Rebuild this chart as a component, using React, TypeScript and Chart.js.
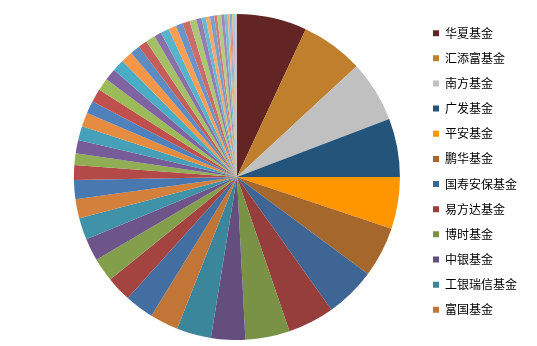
import React, { useEffect, useRef } from "react";
import { Chart, registerables } from "chart.js";

Chart.register(...registerables);

const categories: string[] = [
  "华夏基金", "汇添富基金", "南方基金", "广发基金", "平安基金", "鹏华基金",
  "国寿安保基金", "易方达基金", "博时基金", "中银基金", "工银瑞信基金", "富国基金",
  "嘉实基金", "招商基金", "建信基金", "天弘基金", "兴全基金", "交银施罗德基金",
  "华安基金", "大成基金", "银华基金", "景顺长城基金", "华宝基金", "中欧基金",
  "国泰基金", "长城基金", "农银汇理基金", "光大保德信基金", "民生加银基金", "诺安基金",
  "万家基金", "长盛基金", "融通基金", "泰达宏利基金", "华泰柏瑞基金", "浦银安盛基金",
  "中海基金", "国投瑞银基金", "海富通基金", "信达澳银基金", "宝盈基金", "东方基金",
  "新华基金", "金鹰基金", "中信保诚基金", "上投摩根基金", "申万菱信基金", "兴业基金",
  "前海开源基金", "财通基金", "方正富邦基金", "国联安基金", "天治基金", "德邦基金",
  "中融基金", "鑫元基金",
];

const shares: number[] = [
  6.94, 6.19, 6.08, 5.81, 5.14, 5.0,
  5.0, 4.64, 4.39, 3.39, 3.42, 2.81,
  2.89, 2.5, 2.36, 2.22, 2.17, 1.89,
  1.89, 1.47, 1.17, 1.31, 1.39, 1.39,
  1.25, 1.31, 1.25, 1.17, 1.19, 1.17,
  0.97, 0.89, 0.94, 0.72, 0.83, 0.78,
  0.69, 0.72, 0.67, 0.53, 0.42, 0.42,
  0.42, 0.28, 0.42, 0.31, 0.31, 0.19,
  0.14, 0.13, 0.11, 0.1, 0.08, 0.07,
  0.06, 0.04,
];

const legendCount = 12;

// styling
const firstColors = ["#632523", "#BF7F2D", "#C0C0C0", "#24547A", "#FF9600", "#A6672C"];
const accents = ["#4F81BD", "#C0504D", "#9BBB59", "#8064A2", "#4BACC6", "#F79646"];
const cycleShades = [-0.22, -0.15, -0.07, 0, 0.08, 0.16, 0.24, 0.32, 0.4];

function shade(hex: string, s: number): string {
  const n = parseInt(hex.slice(1), 16);
  let r = (n >> 16) & 255, g = (n >> 8) & 255, b = n & 255;
  const f = (c: number) =>
    Math.round(s < 0 ? c * (1 + s) : c + (255 - c) * s);
  r = f(r); g = f(g); b = f(b);
  return "rgb(" + r + "," + g + "," + b + ")";
}

function buildColors(count: number): string[] {
  const out: string[] = [];
  for (let i = 0; i < count; i++) {
    if (i < 6) out.push(firstColors[i]);
    else {
      const cyc = Math.floor((i - 6) / 6);
      const s = cycleShades[Math.min(cyc, cycleShades.length - 1)];
      out.push(shade(accents[(i - 6) % 6], s));
    }
  }
  return out;
}

export default function App() {
  const ref = useRef<HTMLCanvasElement | null>(null);

  useEffect(() => {
    if (!ref.current) return;
    const chart = new Chart(ref.current, {
      type: "pie",
      data: {
        labels: categories,
        datasets: [
          {
            data: shares,
            backgroundColor: buildColors(shares.length),
            borderWidth: 0,
          },
        ],
      },
      options: {
        responsive: false,
        animation: false,
        devicePixelRatio: 1,
        layout: { padding: { left: 54, right: 10, top: 14, bottom: 6 } },
        plugins: {
          tooltip: { enabled: false },
          legend: {
            position: "right",
            align: "start",
            labels: {
              boxWidth: 6,
              boxHeight: 6,
              padding: 13.15,
              color: "#000000",
              font: { family: "'Noto Sans CJK SC', 'Noto Sans', sans-serif", size: 12 },
              filter: (item: any) => item.index < legendCount,
            },
          },
        },
      },
    });
    return () => chart.destroy();
  }, []);

  return (
    <div style={{ position: "absolute", left: 0, top: 0, width: 537, height: 346, background: "#fff" }}>
      <canvas ref={ref} width={537} height={346} />
    </div>
  );
}
